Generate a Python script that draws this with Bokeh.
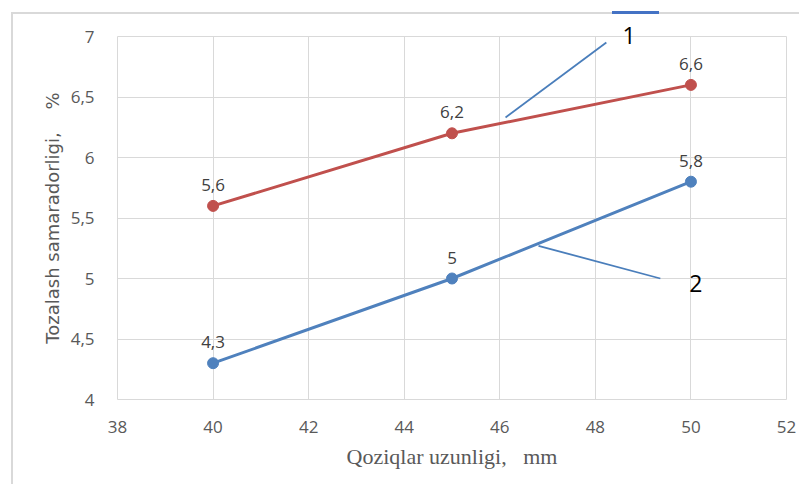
from bokeh.plotting import figure
from bokeh.models import Range1d, FixedTicker, InlineStyleSheet, Label, Title
from bokeh.embed import file_html
from bokeh.resources import INLINE
from bokeh.core.properties import value

# ---- data ----
x_lengths = [40, 45, 50]
series1 = [5.6, 6.2, 6.6]
series2 = [4.3, 5.0, 5.8]
labels1 = ["5,6", "6,2", "6,6"]
labels2 = ["4,3", "5", "5,8"]
x_ticks = [38, 40, 42, 44, 46, 48, 50, 52]
y_ticks = [4, 4.5, 5, 5.5, 6, 6.5, 7]
y_tick_labels = ["4", "4,5", "5", "5,5", "6", "6,5", "7"]
# callout leader lines and their numbers
leader_x0 = [46.12, 46.81]
leader_y0 = [6.33, 5.27]
leader_x1 = [48.23, 49.36]
leader_y1 = [6.95, 5.0]
leader_text = ["1", "2"]
leader_tx = [48.69, 50.10]
leader_ty = [6.99, 4.96]

RED = "#C0504D"
BLUE = "#4F81BD"
GRID = "#d9d9d9"
NB = "\u00a0"

css = InlineStyleSheet(css="""
:host { position: relative; }
:host::after { content: ""; position: absolute; left: 11px; top: 12px; right: 0; bottom: 0;
  border-left: 2px solid #d9d9d9; border-top: 2px solid #d9d9d9; pointer-events: none; }
:host::before { content: ""; position: absolute; left: 612px; top: 11px; width: 47px; height: 3px;
  background: #4472C4; z-index: 5; pointer-events: none; }
""")

p = figure(width=799, height=484, output_backend="svg", toolbar_location=None,
           x_range=Range1d(38, 52), y_range=Range1d(4, 7),
           min_border_left=117, min_border_right=13, min_border_top=36, min_border_bottom=85,
           stylesheets=[css])
p.border_fill_alpha = 0
p.outline_line_color = GRID
p.outline_line_width = 1

p.xaxis.ticker = FixedTicker(ticks=x_ticks)
p.yaxis.ticker = FixedTicker(ticks=y_ticks)
p.yaxis.major_label_overrides = {t: l for t, l in zip(y_ticks, y_tick_labels)}
p.xaxis.major_label_overrides = {t: str(t) for t in x_ticks}
for ax in (p.xaxis, p.yaxis):
    ax.axis_line_color = None
    ax.major_tick_line_color = None
    ax.minor_tick_line_color = None
    ax.major_label_text_font = "Open Sans"
    ax.major_label_text_font_size = "17px"
    ax.major_label_text_color = "#595959"
    ax.axis_label_text_font_style = "normal"
    ax.axis_label_text_color = "#595959"
p.yaxis.major_label_standoff = 17
p.xaxis.major_label_standoff = 15
p.xaxis.axis_label = "Qoziqlar uzunligi," + NB * 3 + "mm"
p.xaxis.axis_label_text_font = "Liberation Serif"
p.xaxis.axis_label_text_font_size = "22px"
p.xaxis.axis_label_standoff = 8
p.yaxis.axis_label = "Tozalash samaradorligi," + NB * 4 + "%"
p.yaxis.axis_label_text_font = "DejaVu Sans"
p.yaxis.axis_label_text_font_size = "18px"
p.yaxis.axis_label_standoff = 5

p.xgrid.grid_line_color = GRID
p.ygrid.grid_line_color = GRID

p.line(x_lengths, series1, line_color=RED, line_width=3)
p.scatter(x_lengths, series1, size=11, fill_color=RED, line_color=RED)
p.line(x_lengths, series2, line_color=BLUE, line_width=3)
p.scatter(x_lengths, series2, size=11, fill_color=BLUE, line_color=BLUE)

p.text(x_lengths, series1, text=labels1, text_align="center", text_baseline="alphabetic",
       y_offset=-21, text_font=value("Open Sans"), text_font_size="17px", text_color="#404040")
p.text(x_lengths, series2, text=labels2, text_align="center", text_baseline="alphabetic",
       y_offset=-21, text_font=value("Open Sans"), text_font_size="17px", text_color="#404040")

p.segment(leader_x0, leader_y0, leader_x1, leader_y1, line_color="#4A7EBB", line_width=1.8)

# callout "1" sits across the top edge of the frame: draw it as a title so it is not clipped
p.add_layout(Title(text=leader_text[0], align="left", offset=505, standoff=-14,
                   text_font="Open Sans", text_font_size="23px", text_font_style="normal",
                   text_color="#000000"), "above")
p.add_layout(Label(x=leader_tx[1], y=leader_ty[1], text=leader_text[1], text_align="center",
                   text_baseline="middle", text_font="Open Sans", text_font_size="23px",
                   text_color="#000000"))

open("out.html", "w").write(file_html(p, INLINE))
